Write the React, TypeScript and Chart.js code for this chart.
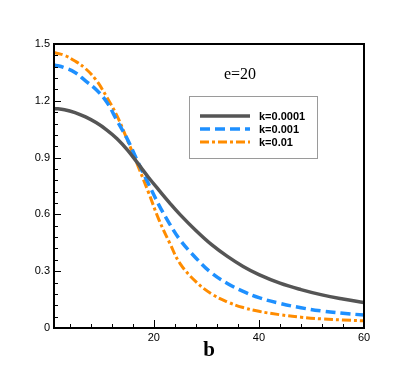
import React, { useEffect, useRef } from "react";
import { Chart, registerables } from "chart.js";

Chart.register(...registerables);

// ---- data ----
const bValues = [1, 3, 5, 7, 9, 11, 13, 15, 17, 19, 21, 23, 25, 28, 31, 34, 37, 40, 44, 48, 52, 56, 60];
const k0001 = [1.16, 1.153, 1.138, 1.115, 1.085, 1.047, 1.0, 0.94, 0.868, 0.795, 0.727, 0.661, 0.599, 0.515, 0.44, 0.378, 0.325, 0.282, 0.237, 0.203, 0.175, 0.153, 0.134];
const k001 = [1.39, 1.375, 1.35, 1.305, 1.26, 1.195, 1.095, 0.995, 0.875, 0.76, 0.648, 0.55, 0.465, 0.37, 0.29, 0.235, 0.193, 0.16, 0.13, 0.107, 0.09, 0.078, 0.068];
const k01 = [1.455, 1.44, 1.41, 1.37, 1.31, 1.222, 1.12, 0.99, 0.855, 0.715, 0.57, 0.45, 0.34, 0.245, 0.18, 0.138, 0.108, 0.088, 0.07, 0.057, 0.048, 0.042, 0.038];
const seriesLabels = ["k=0.0001", "k=0.001", "k=0.01"];
const xTickValues = [20, 40, 60];
const yTickValues = [0, 0.3, 0.6, 0.9, 1.2, 1.5];
const chartTitle = "e=20";
const xAxisTitle = "b";

const frameAndTicks = {
  id: "frameAndTicks",
  afterDraw(chart: any) {
    const { ctx, chartArea } = chart;
    const xs = chart.scales.x;
    const ys = chart.scales.y;
    ctx.save();
    ctx.strokeStyle = "#000";
    ctx.lineWidth = 1;
    for (let v = 4; v <= 60; v += 4) {
      const px = Math.round(xs.getPixelForValue(v)) + 0.5;
      const len = v % 20 === 0 ? 8 : 4;
      ctx.beginPath();
      ctx.moveTo(px, chartArea.bottom);
      ctx.lineTo(px, chartArea.bottom - len);
      ctx.stroke();
    }
    for (let i = 1; i < 25; i++) {
      const v = i * 0.06;
      const py = Math.round(ys.getPixelForValue(v)) + 0.5;
      const len = i % 5 === 0 ? 7 : 4;
      ctx.beginPath();
      ctx.moveTo(chartArea.left, py);
      ctx.lineTo(chartArea.left + len, py);
      ctx.stroke();
    }
    ctx.lineWidth = 2;
    ctx.strokeRect(chartArea.left, chartArea.top, chartArea.right - chartArea.left, chartArea.bottom - chartArea.top);
    ctx.restore();
  },
};

const legendBox = {
  id: "legendBox",
  afterDraw(chart: any) {
    const { ctx } = chart;
    ctx.save();
    ctx.fillStyle = "#000";
    ctx.font = "16px 'Liberation Serif', 'Times New Roman', serif";
    ctx.textAlign = "center";
    ctx.textBaseline = "middle";
    ctx.fillText(chartTitle, 240, 75);

    const bx = 189, by = 96, bw = 128, bh = 62;
    ctx.fillStyle = "#fff";
    ctx.fillRect(bx, by, bw, bh);
    ctx.strokeStyle = "#9a9a9a";
    ctx.lineWidth = 1;
    ctx.strokeRect(bx + 0.5, by + 0.5, bw, bh);
    const rows = [116, 129, 142];
    chart.data.datasets.forEach((ds: any, i: number) => {
      const y = rows[i];
      ctx.strokeStyle = ds.borderColor;
      ctx.lineWidth = ds.borderWidth;
      ctx.setLineDash(ds.borderDash || []);
      ctx.beginPath();
      ctx.moveTo(200, y);
      ctx.lineTo(250, y);
      ctx.stroke();
      ctx.setLineDash([]);
      ctx.fillStyle = "#000";
      ctx.font = "bold 11px 'Liberation Sans', Arial, sans-serif";
      ctx.textAlign = "left";
      ctx.textBaseline = "middle";
      ctx.fillText(ds.label, 259, y + 0.5);
    });
    ctx.restore();
  },
};

export default function App() {
  const ref = useRef<HTMLCanvasElement | null>(null);
  useEffect(() => {
    if (!ref.current) return;
    const mk = (vals: number[]) => bValues.map((b, i) => ({ x: b, y: vals[i] }));
    const chart = new Chart(ref.current, {
      type: "line",
      data: {
        datasets: [
          { label: seriesLabels[0], data: mk(k0001), borderColor: "#555555", borderWidth: 3.5, borderDash: [], pointRadius: 0, tension: 0.4, fill: false },
          { label: seriesLabels[1], data: mk(k001), borderColor: "#1e90ff", borderWidth: 3.5, borderDash: [10, 5], pointRadius: 0, tension: 0.4, fill: false },
          { label: seriesLabels[2], data: mk(k01), borderColor: "#ff8c00", borderWidth: 3, borderDash: [9, 3, 3, 3], pointRadius: 0, tension: 0.4, fill: false },
        ],
      } as any,
      options: {
        responsive: false,
        animation: false,
        layout: { padding: { top: 44, right: 51, left: 0, bottom: 0 } },
        plugins: { legend: { display: false }, tooltip: { enabled: false }, title: { display: false } },
        scales: {
          x: {
            type: "linear",
            min: 1,
            max: 60,
            afterBuildTicks: (s: any) => { s.ticks = xTickValues.map((v) => ({ value: v })); },
            afterFit: (s: any) => { s.height = 41; },
            grid: { display: false, drawTicks: false },
            border: { display: false },
            ticks: { padding: 3, color: "#000", maxRotation: 0, autoSkip: false, font: { family: "'Liberation Sans', Arial, sans-serif", size: 11 }, callback: (v: any) => String(v) },
            title: { display: true, text: xAxisTitle, color: "#000", font: { family: "'Liberation Serif', 'Times New Roman', serif", size: 21, weight: "bold" }, padding: { top: 0, bottom: 6 } },
          },
          y: {
            type: "linear",
            min: 0,
            max: 1.5,
            afterBuildTicks: (s: any) => { s.ticks = yTickValues.map((v) => ({ value: v })); },
            afterFit: (s: any) => { s.width = 54; },
            grid: { display: false, drawTicks: false },
            border: { display: false },
            ticks: { padding: 4, color: "#000", autoSkip: false, font: { family: "'Liberation Sans', Arial, sans-serif", size: 11 }, callback: (v: any) => (v === 0 ? "0" : Number(v).toFixed(1)) },
          },
        },
      } as any,
      plugins: [frameAndTicks, legendBox],
    });
    return () => chart.destroy();
  }, []);
  return (
    <div style={{ position: "fixed", left: 0, top: 0, width: 415, height: 369, background: "#fff" }}>
      <canvas ref={ref} width={415} height={369} />
    </div>
  );
}
